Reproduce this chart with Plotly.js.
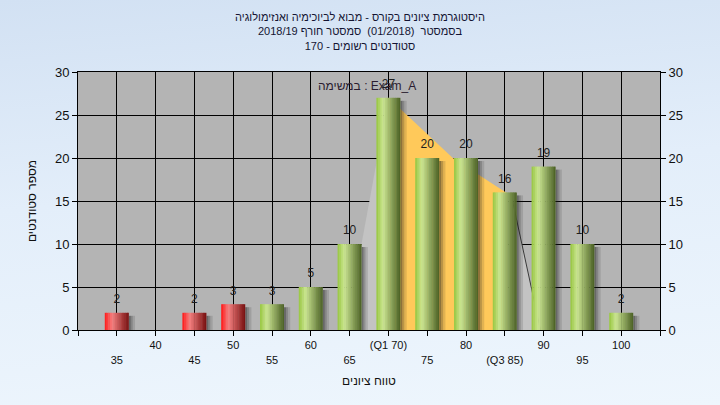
<!DOCTYPE html>
<html>
<head>
<meta charset="utf-8">
<script src="https://cdn.plot.ly/plotly-3.0.1.min.js"></script>
<style>
  html, body { margin: 0; padding: 0; }
  body { width: 720px; height: 405px; overflow: hidden;
         background: linear-gradient(175deg, #d2e1f3 0%, #e3eefa 45%, #eef6fd 100%); }
  #chart { width: 720px; height: 405px; }
</style>
</head>
<body>
<div id="chart"></div>
<script>
// ---- data ----
const categories = [35, 40, 45, 50, 55, 60, 65, 70, 75, 80, 85, 90, 95, 100];
const counts     = [2, 0, 2, 3, 3, 5, 10, 27, 20, 20, 16, 19, 10, 2];
const tickLabels = ['35', '40', '45', '50', '55', '60', '65', '(Q1 70)', '75', '80', '(Q3 85)', '90', '95', '100'];
const passMark = 55;
// background areas (interquartile area and side wedges)
const iqrAreaX   = [70, 70, 78.3, 85.3, 85.3];
const iqrAreaY   = [0, 27, 20, 15.9, 0];
const leftWedgeX = [64.5, 70, 70];
const leftWedgeY = [0, 27, 0];
const rightWedgeX = [86, 86, 89.6];
const rightWedgeY = [0, 15, 0];

const titleLines = [
  'היסטוגרמת ציונים בקורס - מבוא לביוכימיה ואנזימולוגיה',
  'בסמסטר  (01/2018)  סמסטר חורף 2018/19',
  'סטודנטים רשומים - 170'
];
const taskLabel = 'במשימה : Exam_A';
const xTitle = 'טווח ציונים';
const yTitle = 'מספר סטודנטים';

// ---- styling helpers ----
const RLE = '\u202B', PDF = '\u202C';
const FONT = '"Liberation Sans", Arial, "DejaVu Sans", sans-serif';
const W = 3.1;      // bar width in x units
const N = 14;       // slices used to emulate the cylinder shading
const greenStops = [[0, [150, 198, 62]], [0.28, [204, 230, 146]], [1, [72, 94, 34]]];
const redStops   = [[0, [255, 22, 22]], [0.3, [245, 128, 128]], [1, [118, 14, 14]]];
function grad(stops, t) {
  for (let k = 0; k < stops.length - 1; k++) {
    const [t0, c0] = stops[k], [t1, c1] = stops[k + 1];
    if (t <= t1) {
      const f = (t - t0) / (t1 - t0);
      const c = c0.map((v, j) => Math.round(v + (c1[j] - v) * f));
      return 'rgb(' + c.join(',') + ')';
    }
  }
  return 'rgb(' + stops[stops.length - 1][1].join(',') + ')';
}

const traces = [];
// background polygons on the base subplot (under the bars)
traces.push({type: 'scatter', x: leftWedgeX, y: leftWedgeY, fill: 'toself', mode: 'lines',
  line: {width: 0}, fillcolor: '#c3c3c3', hoverinfo: 'skip', showlegend: false});
traces.push({type: 'scatter', x: rightWedgeX, y: rightWedgeY, fill: 'toself', mode: 'lines',
  line: {width: 0}, fillcolor: '#c3c3c3', hoverinfo: 'skip', showlegend: false});
traces.push({type: 'scatter', x: rightWedgeX.slice(1), y: rightWedgeY.slice(1), mode: 'lines',
  line: {width: 1, color: '#3a3a3a'}, hoverinfo: 'skip', showlegend: false});
traces.push({type: 'scatter', x: iqrAreaX, y: iqrAreaY, fill: 'toself', mode: 'lines',
  line: {width: 0}, fillcolor: '#ffc95a', hoverinfo: 'skip', showlegend: false});

// shadows (overlay subplot, drawn first)
const shadowY = counts.map(v => Math.max(v - 0.35, 0));
[[0.50, 0.0, 0.25], [0.30, 0.25, 0.25], [0.13, 0.5, 0.3]].forEach(([a, off, w]) => {
  traces.push({type: 'bar', x: categories, y: shadowY, yaxis: 'y2',
    offset: W / 2 + off, width: w,
    marker: {color: 'rgba(25,25,25,' + a + ')', line: {width: 0}},
    hoverinfo: 'skip', showlegend: false});
});
// bar slices
for (let i = 0; i < N; i++) {
  const t = (i + 0.5) / N;
  const g = grad(greenStops, t), r = grad(redStops, t);
  traces.push({type: 'bar', x: categories, y: counts, yaxis: 'y2',
    offset: -W / 2 + i * W / N, width: (i === N - 1) ? W / N : W / N * 1.25,
    marker: {color: categories.map(c => c < passMark ? r : g), line: {width: 0}},
    hoverinfo: 'skip', showlegend: false});
}
// value labels
traces.push({type: 'scatter', x: categories, y: counts, yaxis: 'y2', mode: 'markers+text',
  marker: {size: 9, opacity: 0}, text: counts.map(v => v > 0 ? String(v) : ''),
  textposition: 'top center', textfont: {family: FONT, size: 12, color: '#1e1e1e'},
  hoverinfo: 'skip', showlegend: false});

const allTicks = [30].concat(categories, [105]);
const allTickText = [''].concat(tickLabels.map((t, i) => i % 2 === 0 ? ' <br>' + t : t), ['']);

const layout = {
  width: 720, height: 405,
  margin: {l: 78, r: 60, t: 72, b: 75},
  paper_bgcolor: 'rgba(0,0,0,0)',
  plot_bgcolor: '#b4b4b4',
  barmode: 'overlay',
  font: {family: FONT, color: '#111'},
  title: {text: titleLines.map(s => RLE + s + PDF).join('<br>'),
    font: {family: FONT, size: 11, color: '#141432'}, x: 0.5, xanchor: 'center', y: 0.948, yanchor: 'top'},
  xaxis: {range: [30, 105], tickvals: allTicks, ticktext: allTickText,
    ticks: 'outside', ticklen: 5, tickcolor: '#000', showgrid: true, gridcolor: '#000', gridwidth: 1,
    showline: true, linecolor: '#000', linewidth: 1, mirror: true, zeroline: false,
    tickfont: {family: FONT, size: 11, color: '#111'},
    title: {text: xTitle, font: {family: FONT, size: 12, color: '#111'}, standoff: 12}},
  yaxis: {range: [0, 30], dtick: 5, ticks: 'outside', ticklen: 5, tickcolor: '#000',
    showgrid: true, gridcolor: '#000', gridwidth: 1, showline: true, linecolor: '#000', linewidth: 1,
    zeroline: false, tickfont: {family: FONT, size: 13, color: '#111'},
    title: {text: yTitle, font: {family: FONT, size: 12, color: '#111'}, standoff: 15}},
  yaxis2: {overlaying: 'y', side: 'right', range: [0, 30], dtick: 5, ticks: 'outside', ticklen: 5,
    tickcolor: '#000', showgrid: false, showline: true, linecolor: '#000', linewidth: 1, zeroline: false,
    tickfont: {family: FONT, size: 13, color: '#111'}},
  annotations: [{text: taskLabel, xref: 'paper', yref: 'paper', x: 0.497, y: 0.945,
    xanchor: 'center', yanchor: 'middle', showarrow: false,
    font: {family: FONT, size: 12, color: '#2a1c30'}}]
};

Plotly.newPlot('chart', traces, layout, {staticPlot: true, displayModeBar: false});
</script>
</body>
</html>
